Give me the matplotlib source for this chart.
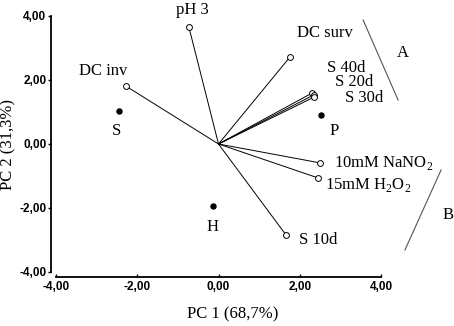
import matplotlib
matplotlib.use("Agg")
import matplotlib.pyplot as plt

plt.rcParams['mathtext.fontset'] = 'custom'
plt.rcParams['mathtext.rm'] = 'Liberation Serif'

# Loading vectors (PC1, PC2)
vec_names = ["pH 3", "DC inv", "DC surv", "S 40d", "S 20d", "S 30d",
             "10mM NaNO$_\\mathregular{2}$", "15mM H$_\\mathregular{2}$O$_\\mathregular{2}$", "S 10d"]
vec_x = [-0.73, -2.28, 1.76, 2.30, 2.34, 2.36, 2.50, 2.45, 1.66]
vec_y = [3.66, 1.81, 2.72, 1.59, 1.53, 1.47, -0.59, -1.06, -2.84]

# Score points
pt_names = ["S", "P", "H"]
pt_x = [-2.45, 2.52, -0.14]
pt_y = [1.03, 0.91, -1.94]

ticks = [-4, -2, 0, 2, 4]
tick_labels = ["-4,00", "-2,00", "0,00", "2,00", "4,00"]

fig = plt.figure(figsize=(4.54, 3.26), dpi=100)
ax = fig.add_axes([56/454, 54/326, 325/454, 256/326])
ax.set_xlim(-4, 4)
ax.set_ylim(-4, 4)

for x, y in zip(vec_x, vec_y):
    ax.plot([0, x], [0, y], color='black', lw=0.7, zorder=2)
ax.plot(vec_x, vec_y, 'o', ms=4.2, mfc='white', mec='black', mew=0.7, zorder=3)
ax.plot(pt_x, pt_y, 'o', ms=3.6, color='black', zorder=3)

serif = dict(family='Liberation Serif', fontsize=12)
# vector labels
vec_label_pos = [(-0.65, 4.19, 'center'), (-2.84, 2.28, 'center'), (2.62, 3.47, 'center'),
                 (3.14, 2.38, 'center'), (3.34, 1.94, 'center'), (3.58, 1.44, 'center'),
                 (2.84, -0.59, 'left'), (2.62, -1.28, 'left'), (1.98, -3.0, 'left')]
for name, (tx, ty, ha) in zip(vec_names, vec_label_pos):
    ax.text(tx, ty, name, ha=ha, va='center', clip_on=False, **serif)

pt_label_pos = [(-2.50, 0.41), (2.84, 0.41), (-0.14, -2.59)]
for name, (tx, ty) in zip(pt_names, pt_label_pos):
    ax.text(tx, ty, name, ha='center', va='center', **serif)

# group brackets
ax.plot([3.56, 4.42], [3.875, 1.375], color='#555555', lw=0.8, clip_on=False)
ax.plot([5.48, 4.59], [-0.81, -3.31], color='#555555', lw=0.8, clip_on=False)
ax.text(4.54, 2.84, "A", ha='center', va='center', clip_on=False, **serif)
ax.text(5.65, -2.22, "B", ha='center', va='center', clip_on=False, **serif)

for s in ['top', 'right']:
    ax.spines[s].set_visible(False)
ax.spines['left'].set_position(('outward', 3.5))
ax.spines['bottom'].set_position(('outward', 3.5))
ax.spines['left'].set_linewidth(1.3)
ax.spines['bottom'].set_linewidth(1.3)

ax.set_xticks(ticks)
ax.set_xticklabels(tick_labels)
ax.set_yticks(ticks)
ax.set_yticklabels(tick_labels)
ax.tick_params(axis='x', direction='in', length=2.5, width=1.0, pad=3)
ax.tick_params(axis='y', direction='out', length=2.5, width=1.0, pad=1)
for lab in ax.get_xticklabels() + ax.get_yticklabels():
    lab.set_family('Liberation Sans')
    lab.set_fontweight('bold')
    lab.set_fontsize(8.5)

ax.set_xlabel("PC 1 (68,7%)", family='Liberation Serif', fontsize=12)
ax.set_ylabel("PC 2 (31,3%)", family='Liberation Serif', fontsize=12, labelpad=2)
ax.xaxis.set_label_coords(0.545, -0.135)

fig.savefig("out.png", dpi=100)
